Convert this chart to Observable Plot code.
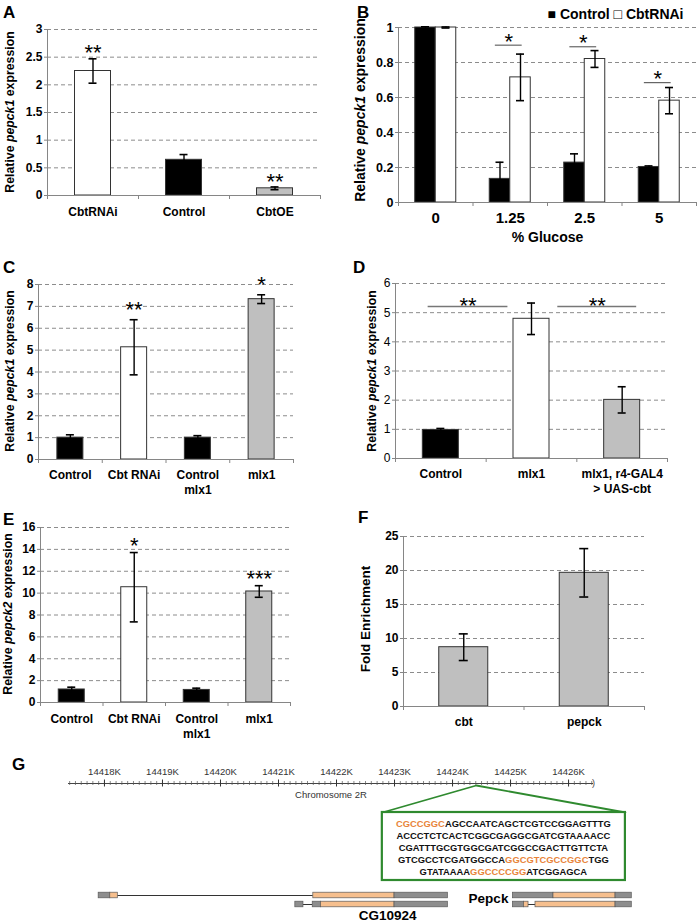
<!DOCTYPE html>
<html><head><meta charset="utf-8">
<script src="https://cdn.jsdelivr.net/npm/d3@7"></script>
<script src="https://cdn.jsdelivr.net/npm/@observablehq/plot@0.6"></script>
<style>
body{margin:0;background:#fff;}
#fig{position:relative;width:698px;height:924px;overflow:hidden;background:#fff;}
#fig svg{position:absolute;left:0;top:0;}
</style></head><body><div id="fig"></div>
<script>
// ---------------- DATA ----------------
// Panel A
const aCategories = ["CbtRNAi", "Control", "CbtOE"];
const aValues = [2.25, 0.645, 0.13];
const aErrors = [0.22, 0.095, 0.025];
const aStars = ["**", "", "**"];
const aTicks = [0, 0.5, 1, 1.5, 2, 2.5, 3];

// Panel B
const bGlucose = ["0", "1.25", "2.5", "5"];
const bControl = [1.0, 0.135, 0.228, 0.203];
const bControlErr = [0.004, 0.095, 0.05, 0.006];
const bRNAi = [1.0, 0.715, 0.82, 0.582];
const bRNAiErr = [0.003, 0.133, 0.048, 0.075];
const bSigY = [null, 0.899, 0.89, 0.685];
const bSig = ["", "*", "*", "*"];
const bTicks = [0, 0.2, 0.4, 0.6, 0.8, 1];

// Panel C
const cCategories = ["Control", "Cbt RNAi", "Control\nmlx1", "mlx1"];
const cValues = [1.0, 5.13, 1.0, 7.33];
const cErrors = [0.13, 1.26, 0.09, 0.2];
const cStars = ["", "**", "", "*"];
const cTicks = [0, 1, 2, 3, 4, 5, 6, 7, 8];

// Panel D
const dCategories = ["Control", "mlx1", "mlx1, r4-GAL4\n> UAS-cbt"];
const dValues = [0.98, 4.79, 2.01];
const dErrors = [0.05, 0.54, 0.45];
const dSigFrom = [0.36, 1.79];
const dSigTo = [1.24, 2.66];
const dSigY = [5.21, 5.21];
const dSigLabel = ["**", "**"];
const dTicks = [0, 1, 2, 3, 4, 5, 6];

// Panel E
const eCategories = ["Control", "Cbt RNAi", "Control\nmlx1", "mlx1"];
const eValues = [1.19, 10.54, 1.15, 10.15];
const eErrors = [0.21, 3.17, 0.16, 0.53];
const eStars = ["", "*", "", "***"];
const eTicks = [0, 2, 4, 6, 8, 10, 12, 14, 16];

// Panel F
const fCategories = ["cbt", "pepck"];
const fValues = [8.72, 19.66];
const fErrors = [1.96, 3.56];
const fStars = ["", ""];
const fTicks = [0, 5, 10, 15, 20, 25];

// Panel G (genomic coordinates in kb, chromosome 2R)
const gRulerStart = 14417.38, gRulerEnd = 14426.43;
const gKbTicks = [14418, 14419, 14420, 14421, 14422, 14423, 14424, 14425, 14426];
const gExonGene  = ["CG10924","CG10924","CG10924","CG10924","CG10924","CG10924","CG10924","CG10924","Pepck","Pepck","Pepck","Pepck","Pepck","Pepck","Pepck"];
const gExonRow   = [1, 1, 1, 1, 2, 2, 2, 2, 1, 1, 1, 2, 2, 2, 2];
const gExonStart = [14417.90, 14418.10, 14421.60, 14423.00, 14421.29, 14421.59, 14421.73, 14423.00, 14425.04, 14425.74, 14426.81, 14425.04, 14425.23, 14425.43, 14426.81];
const gExonEnd   = [14418.10, 14418.23, 14423.00, 14423.92, 14421.43, 14421.73, 14423.00, 14423.92, 14425.74, 14426.81, 14427.09, 14425.23, 14425.31, 14426.81, 14427.09];
const gExonKind  = ["utr","cds","cds","utr","utr","utr","cds","utr","utr","cds","utr","utr","cds","cds","utr"];
const gIntronRow   = [1, 2, 2];
const gIntronStart = [14418.23, 14421.43, 14425.31];
const gIntronEnd   = [14421.60, 14421.59, 14425.43];
const gGeneNames = ["CG10924", "Pepck"];
const gGeneLabelX = [14422.88, 14424.62];
const gZoomPoint = 14424.41;
const gZoomFrom = 14422.79, gZoomTo = 14426.98;
const gSeqLines = [
  "CGCCGGCAGCCAATCAGCTCGTCCGGAGTTTG",
  "ACCCTCTCACTCGGCGAGGCGATCGTAAAACC",
  "CGATTTGCGTGGCGATCGGCCGACTTGTTCTA",
  "GTCGCCTCGATGGCCAGGCGTCGCCGGCTGG",
  "GTATAAAAGGCCCCGGATCGGAGCA"
];
const gSeqHighlights = [[0, 0, 7], [3, 16, 28], [4, 8, 16]]; // [line, from, to]

// ---------------- STYLE ----------------
const FONT = '"Liberation Sans", Arial, Helvetica, sans-serif';
const GRID = "#8c8c8c", AXIS = "#868686";
const W = 698, H = 924;
const fig = document.getElementById("fig");
const baseStyle = {background: "transparent", overflow: "visible", fontFamily: FONT, fontSize: "12px", fontWeight: "bold", color: "#000"};

function barPanel(o) {
  const n = o.categories.length, idx = d3.range(n);
  const step = (o.x1 - o.x0) / n;
  const half = o.barWidth / step / 2, cap = o.capWidth / step / 2;
  const center = i => i + 0.5;
  const hi = i => o.values[i] + o.errors[i], lo = i => o.values[i] - o.errors[i];
  const fs = 22;
  const plot = Plot.plot({
    width: W, height: H,
    marginLeft: o.x0, marginRight: W - o.x1, marginTop: o.yTop, marginBottom: H - o.yBottom,
    x: {domain: [0, n]}, y: {domain: [0, o.yMax]},
    style: baseStyle,
    marks: [
      Plot.ruleY(o.yTicks.filter(t => t > 0), {stroke: GRID, strokeDasharray: "4,3"}),
      Plot.rect(idx, {x1: i => center(i) - half, x2: i => center(i) + half, y1: 0, y2: i => o.values[i],
        fill: i => o.fill[o.categories[i]], stroke: "#333", strokeWidth: 1}),
      Plot.ruleX(idx, {x: center, y1: lo, y2: hi, stroke: "#000", strokeWidth: 1.4}),
      Plot.ruleY(idx, {y: hi, x1: i => center(i) - cap, x2: i => center(i) + cap, stroke: "#000", strokeWidth: 1.6}),
      Plot.ruleY(idx, {y: lo, x1: i => center(i) - cap, x2: i => center(i) + cap, stroke: "#000", strokeWidth: 1.6}),
      Plot.ruleY([0], {stroke: AXIS}),
      Plot.ruleX([0], {stroke: AXIS}),
      Plot.axisY({ticks: o.yTicks, tickFormat: d => String(d), tickSize: 3, tickPadding: 2, stroke: AXIS,
        fontWeight: o.yWeight || "bold", fontSize: 12, label: null}),
      Plot.axisX({ticks: d3.range(n + 1), tickSize: 4, tickFormat: () => "", stroke: AXIS, label: null}),
      Plot.text(idx, {x: center, text: i => o.categories[i], frameAnchor: "bottom", lineAnchor: "top",
        dy: o.labelDy, lineHeight: 1.22, fontSize: 12, fontWeight: "bold"}),
      Plot.text(idx.filter(i => o.stars[i]), {x: center, y: hi, text: i => o.stars[i], fontSize: fs,
        fontWeight: "normal", lineAnchor: "middle", dy: -(o.starGap - 0.255 * fs)}),
      ...(o.extra ? o.extra(fs) : [])
    ]
  });
  fig.appendChild(plot);
  return plot;
}

// A
barPanel({categories: aCategories, values: aValues, errors: aErrors, stars: aStars,
  fill: {CbtRNAi: "#ffffff", Control: "#000000", CbtOE: "#bfbfbf"},
  x0: 47, x1: 320, yTop: 29, yBottom: 195, yMax: 3, yTicks: aTicks,
  barWidth: 36, capWidth: 8, labelDy: 10.5, starGap: 11});

// C
barPanel({categories: cCategories, values: cValues, errors: cErrors, stars: cStars,
  fill: {"Control": "#000000", "Cbt RNAi": "#ffffff", "Control\nmlx1": "#000000", "mlx1": "#bfbfbf"},
  x0: 38, x1: 293, yTop: 284, yBottom: 459, yMax: 8, yTicks: cTicks,
  barWidth: 26, capWidth: 8, labelDy: 9.5, starGap: 15});

// D
barPanel({categories: dCategories, values: dValues, errors: dErrors, stars: ["", "", ""],
  fill: {"Control": "#000000", "mlx1": "#ffffff", "mlx1, r4-GAL4\n> UAS-cbt": "#bfbfbf"},
  x0: 395, x1: 667, yTop: 283, yBottom: 458, yMax: 6, yTicks: dTicks, yWeight: "normal",
  barWidth: 36, capWidth: 8, labelDy: 9.5, starGap: 12,
  extra: fs => {
    const k = d3.range(dSigY.length);
    return [
      Plot.ruleY(k, {y: i => dSigY[i], x1: i => dSigFrom[i], x2: i => dSigTo[i], stroke: "#777", strokeWidth: 1.5}),
      Plot.text(k, {x: i => (dSigFrom[i] + dSigTo[i]) / 2, y: i => dSigY[i], text: i => dSigLabel[i],
        fontSize: fs, fontWeight: "normal", lineAnchor: "middle", dy: -(6 - 0.255 * fs)})
    ];
  }});

// E
barPanel({categories: eCategories, values: eValues, errors: eErrors, stars: eStars,
  fill: {"Control": "#000000", "Cbt RNAi": "#ffffff", "Control\nmlx1": "#000000", "mlx1": "#bfbfbf"},
  x0: 40, x1: 290, yTop: 527, yBottom: 702, yMax: 16, yTicks: eTicks,
  barWidth: 26, capWidth: 8, labelDy: 10.5, starGap: 12});

// F
barPanel({categories: fCategories, values: fValues, errors: fErrors, stars: fStars,
  fill: {cbt: "#bfbfbf", pepck: "#bfbfbf"},
  x0: 403, x1: 644, yTop: 536, yBottom: 706, yMax: 25, yTicks: fTicks,
  barWidth: 49, capWidth: 9, labelDy: 9.5, starGap: 12});

// B (grouped)
{
  const n = bGlucose.length, idx = d3.range(n);
  const x0 = 398, x1 = 696, step = (x1 - x0) / n;
  const bw = 20.5 / step, cap = 4 / step;
  const fs = 22;
  const cC = i => i + 0.5 - bw / 2, cR = i => i + 0.5 + bw / 2;
  const sigIdx = idx.filter(i => bSig[i]);
  const plot = Plot.plot({
    width: W, height: H,
    marginLeft: x0, marginRight: W - x1, marginTop: 27, marginBottom: H - 202,
    x: {domain: [0, n]}, y: {domain: [0, 1]},
    style: baseStyle,
    marks: [
      Plot.ruleY(bTicks.filter(t => t > 0), {stroke: GRID, strokeDasharray: "4,3"}),
      Plot.rect(idx, {x1: i => i + 0.5 - bw, x2: i => i + 0.5, y1: 0, y2: i => bControl[i], fill: "#000", stroke: "#333", strokeWidth: 1}),
      Plot.rect(idx, {x1: i => i + 0.5, x2: i => i + 0.5 + bw, y1: 0, y2: i => bRNAi[i], fill: "#fff", stroke: "#333", strokeWidth: 1}),
      Plot.ruleX(idx, {x: cC, y1: i => bControl[i] - bControlErr[i], y2: i => bControl[i] + bControlErr[i], stroke: "#000", strokeWidth: 1.4}),
      Plot.ruleY(idx, {y: i => bControl[i] + bControlErr[i], x1: i => cC(i) - cap, x2: i => cC(i) + cap, stroke: "#000", strokeWidth: 1.6}),
      Plot.ruleX(idx, {x: cR, y1: i => bRNAi[i] - bRNAiErr[i], y2: i => bRNAi[i] + bRNAiErr[i], stroke: "#000", strokeWidth: 1.4}),
      Plot.ruleY(idx, {y: i => bRNAi[i] + bRNAiErr[i], x1: i => cR(i) - cap, x2: i => cR(i) + cap, stroke: "#000", strokeWidth: 1.6}),
      Plot.ruleY(idx, {y: i => bRNAi[i] - bRNAiErr[i], x1: i => cR(i) - cap, x2: i => cR(i) + cap, stroke: "#000", strokeWidth: 1.6}),
      Plot.ruleY(sigIdx, {y: i => bSigY[i], x1: i => i + 0.5 - 0.2, x2: i => i + 0.5 + 0.16, stroke: "#666", strokeWidth: 1.2}),
      Plot.text(sigIdx, {x: i => i + 0.48, y: i => bSigY[i], text: i => bSig[i], fontSize: fs, fontWeight: "normal",
        lineAnchor: "middle", dy: -(9 - 0.255 * fs)}),
      Plot.ruleY([0], {stroke: AXIS}),
      Plot.ruleX([0], {stroke: AXIS}),
      Plot.axisY({ticks: bTicks, tickFormat: d => (d === 0 || d === 1) ? String(d) : d.toFixed(1), tickSize: 3, tickPadding: 2,
        stroke: AXIS, fontSize: 12.5, fontWeight: "bold", label: null}),
      Plot.axisX({ticks: d3.range(n + 1), tickSize: 4, tickFormat: () => "", stroke: AXIS, label: null}),
      Plot.text(idx, {x: i => i + 0.5, text: i => bGlucose[i], frameAnchor: "bottom", lineAnchor: "top", dy: 9.5, fontSize: 15, fontWeight: "bold"}),
      Plot.text(["% Glucose"], {text: d => d, frameAnchor: "bottom", lineAnchor: "middle", dy: 35, fontSize: 14, fontWeight: "bold"}),
      Plot.text(["\u25A0 Control \u25A1 CbtRNAi"], {text: d => d, frameAnchor: "top-right", textAnchor: "end", lineAnchor: "middle",
        dx: -13, dy: -13, fontSize: 14, fontWeight: "bold"})
    ]
  });
  fig.appendChild(plot);
}

// G
let gPlot;
{
  const idx = d3.range(gExonStart.length), intr = d3.range(gIntronStart.length);
  const rowY = r => r === 1 ? 112 : 121;
  const minor = d3.range(Math.ceil(gRulerStart * 10), Math.floor(gRulerEnd * 10) + 1).map(d => d / 10);
  const green = "#2f8a2f";
  gPlot = Plot.plot({
    width: W, height: H,
    marginLeft: 68, marginRight: W - 593, marginTop: 759, marginBottom: 0,
    x: {domain: [gRulerStart, gRulerEnd], axis: null}, y: {domain: [-24, 141], reverse: true, axis: null},
    style: {...baseStyle, fontWeight: "normal"},
    marks: [
      Plot.ruleY([0], {x1: gRulerStart, x2: gRulerEnd, stroke: "#444", strokeWidth: 1}),
      Plot.ruleX(minor, {x: d => d, y1: -2, y2: 2, stroke: "#555", strokeWidth: 0.7}),
      Plot.ruleX(gKbTicks, {x: d => d, y1: -3.5, y2: 3.5, stroke: "#333", strokeWidth: 1}),
      Plot.text(gKbTicks, {x: d => d, y: -12, text: d => d + "K", fontSize: 9.5, fill: "#333", lineAnchor: "middle"}),
      Plot.text([")"], {x: gRulerEnd, y: 0, text: d => d, fontSize: 9, fill: "#444", lineAnchor: "middle", textAnchor: "middle"}),
      Plot.text(["Chromosome 2R"], {x: (gRulerStart + gRulerEnd) / 2, y: 11, text: d => d, fontSize: 9.5, fill: "#333", lineAnchor: "middle"}),
      Plot.line([[gZoomFrom, 29], [gZoomPoint, 2], [gZoomTo, 29]], {x: d => d[0], y: d => d[1], stroke: green, strokeWidth: 1.8}),
      Plot.rect([0], {x1: gZoomFrom, x2: gZoomTo, y1: 29, y2: 97, fill: "#fff", stroke: green, strokeWidth: 2.2}),
      Plot.ruleY(intr, {y: i => rowY(gIntronRow[i]), x1: i => gIntronStart[i], x2: i => gIntronEnd[i], stroke: "#333", strokeWidth: 1}),
      Plot.rect(idx, {x1: i => gExonStart[i], x2: i => gExonEnd[i], y1: i => rowY(gExonRow[i]) - 2.8, y2: i => rowY(gExonRow[i]) + 2.8,
        fill: i => gExonKind[i] === "cds" ? "#f6bf8e" : "#8e8e8e", stroke: "#5a5a5a", strokeWidth: 0.7}),
      Plot.text(d3.range(gGeneNames.length), {x: i => gGeneLabelX[i], y: i => gGeneNames[i] === "Pepck" ? 115 : 132,
        text: i => gGeneNames[i], fontSize: 13.5, fontWeight: "bold", lineAnchor: "middle"})
    ]
  });
  fig.appendChild(gPlot);
}

// Overlay: panel letters, y-axis titles, sequence
{
  const ov = d3.create("svg").attr("width", W).attr("height", H)
    .style("font-family", FONT).style("pointer-events", "none");
  const letters = [["A", 3, 18], ["B", 357, 18], ["C", 3, 273], ["D", 353, 273], ["E", 3, 525], ["F", 358, 523], ["G", 12, 770]];
  letters.forEach(([t, x, y]) => ov.append("text").attr("x", x).attr("y", y).attr("font-size", 17).attr("font-weight", "bold").text(t));
  function yLabel(x, y, parts, size) {
    const t = ov.append("text").attr("transform", `translate(${x},${y}) rotate(-90)`).attr("text-anchor", "middle")
      .attr("dominant-baseline", "central").attr("font-size", size).attr("font-weight", "bold");
    parts.forEach(([s, it]) => t.append("tspan").attr("font-style", it ? "italic" : null).text(s));
  }
  yLabel(10, 112, [["Relative "], ["pepck1", true], [" expression"]], 12.3);
  yLabel(360, 110, [["Relative "], ["pepck1", true], [" expression"]], 14);
  yLabel(10, 371, [["Relative "], ["pepck1", true], [" expression"]], 12.3);
  yLabel(372, 371, [["Relative "], ["pepck1", true], [" expression"]], 12.3);
  yLabel(8, 614, [["Relative "], ["pepck2", true], [" expression"]], 12.3);
  yLabel(365, 619, [["Fold Enrichment"]], 13.5);

  // sequence inside the callout box (positions from G's scales)
  const sx = gPlot.scale("x"), sy = gPlot.scale("y");
  const cx = (sx.apply(gZoomFrom) + sx.apply(gZoomTo)) / 2;
  const top = sy.apply(29);
  gSeqLines.forEach((line, k) => {
    const t = ov.append("text").attr("x", cx).attr("y", top + 14.5 + k * 12).attr("text-anchor", "middle")
      .attr("font-size", 9.4).attr("font-weight", "bold");
    const h = gSeqHighlights.find(d => d[0] === k);
    const segs = h ? [[line.slice(0, h[1]), false], [line.slice(h[1], h[2]), true], [line.slice(h[2]), false]] : [[line, false]];
    segs.filter(s => s[0]).forEach(([s, hl]) => t.append("tspan").attr("fill", hl ? "#e8843a" : "#111").text(s));
  });
  fig.appendChild(ov.node());
}
</script></body></html>
